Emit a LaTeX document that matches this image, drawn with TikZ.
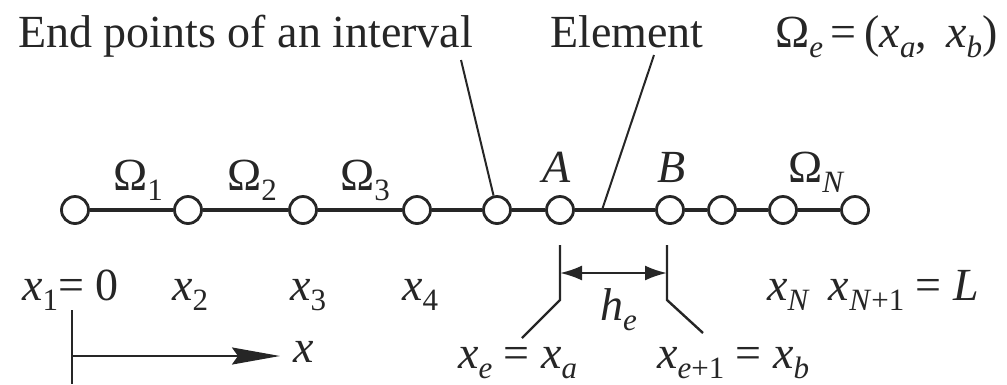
\documentclass[tikz,border=0pt]{standalone}
\usepackage{fontspec}
\IfFontExistsTF{LiberationSerif-Regular.ttf}
  {\setmainfont{LiberationSerif}[Extension=.ttf,UprightFont=*-Regular,ItalicFont=*-Italic,BoldFont=*-Bold,BoldItalicFont=*-BoldItalic]}
  {\setmainfont{Latin Modern Roman}}
\usetikzlibrary{arrows.meta}
\newcommand\sbx[1]{\raisebox{-10pt}{\fontsize{31}{31}\selectfont #1}}
\begin{document}
\begin{tikzpicture}[x=1pt,y=-1pt,
  pt/.style={circle,draw=black!85,line width=2.8pt,fill=white,minimum size=27pt,inner sep=0pt},
  mainline/.style={draw=black!85,line width=4pt},
  leader/.style={draw=black!85,line width=2pt},
  dimline/.style={draw=black!85,line width=2.4pt},
  lbl/.style={font=\fontsize{46}{50}\selectfont,inner sep=0pt,text=black!85}]
\useasboundingbox (0,0) rectangle (1007,384);
% points
\node[pt] (n1) at (75,210) {};
\node[pt] (n2) at (188,210) {};
\node[pt] (n3) at (303,210) {};
\node[pt] (n4) at (417,210) {};
\node[pt] (n5) at (497,210) {};
\node[pt] (n6) at (560,210) {};
\node[pt] (n7) at (670,210) {};
\node[pt] (n8) at (722,210) {};
\node[pt] (n9) at (783,210) {};
\node[pt] (n10) at (855,210) {};
\foreach \a/\b in {n1/n2,n2/n3,n3/n4,n4/n5,n5/n6,n6/n7,n7/n8,n8/n9,n9/n10}
  \draw[mainline] (\a) -- (\b);
% top labels
\node[lbl,anchor=base west] (tend) at (18,47) {End points of an interval};
\node[lbl,anchor=base west] (telem) at (550,47) {Element};
\node[lbl,anchor=base west] (tome) at (775,47) {Ω\sbx{\textit{e}}\,=\,(\textit{x}\sbx{\textit{a}},\, \textit{x}\sbx{\textit{b}})};
% leaders
\coordinate (l1) at (461,60);
\draw[leader] (l1) -- (n5);
\coordinate (l2) at (654,55);
\coordinate (l2e) at (602,210);
\draw[leader] (l2) -- (l2e);
% element labels
\node[lbl,anchor=base west] (om1) at (113,190) {Ω\sbx{1}};
\node[lbl,anchor=base west] (om2) at (227,190) {Ω\sbx{2}};
\node[lbl,anchor=base west] (om3) at (340,190) {Ω\sbx{3}};
\node[lbl,anchor=base] (la) at (557,182) {\textit{A}};
\node[lbl,anchor=base] (lb) at (672,182) {\textit{B}};
\node[lbl,anchor=base west] (omn) at (788,182) {Ω\sbx{\textit{N}}};
% coordinates below
\node[lbl,anchor=base west] (x1) at (22,300) {\textit{x}\sbx{1}= 0};
\node[lbl,anchor=base west] (x2) at (172,300) {\textit{x}\sbx{2}};
\node[lbl,anchor=base west] (x3) at (290,300) {\textit{x}\sbx{3}};
\node[lbl,anchor=base west] (x4) at (402,300) {\textit{x}\sbx{4}};
\node[lbl,anchor=base west] (xn) at (767,300) {\textit{x}\sbx{\textit{N}}\, \textit{x}\sbx{\textit{N}+1} = \textit{L}};
% dimension
\coordinate (da1) at (560,245); \coordinate (da2) at (560,300); \coordinate (da3) at (522,338);
\coordinate (db1) at (667,245); \coordinate (db2) at (667,300); \coordinate (db3) at (703,333);
\draw[dimline] (da1) -- (da2) -- (da3);
\draw[dimline] (db1) -- (db2) -- (db3);
\coordinate (ha) at (560,273); \coordinate (hb) at (667,273);
\draw[dimline,{Latex[length=22pt,width=15pt]}-{Latex[length=22pt,width=15pt]}] (ha) -- (hb);
\node[lbl,anchor=base west] (he) at (600,320) {\textit{h}\sbx{\textit{e}}};
\node[lbl,anchor=base west] (xe) at (458,368) {\textit{x}\sbx{\textit{e}} = \textit{x}\sbx{\textit{a}}};
\node[lbl,anchor=base west] (xe1) at (657,368) {\textit{x}\sbx{\textit{e}+1} = \textit{x}\sbx{\textit{b}}};
% axis
\coordinate (o1) at (72,310); \coordinate (o2) at (72,384);
\draw[dimline] (o1) -- (o2);
\node[lbl,anchor=base west] (xl) at (293,362) {\textit{x}};
\coordinate (a0) at (72,356); \coordinate (a1) at (280,356);
\draw[dimline,-{Stealth[length=48pt,width=17pt,inset=6pt]}] (a0) -- (a1);
\end{tikzpicture}
\end{document}
